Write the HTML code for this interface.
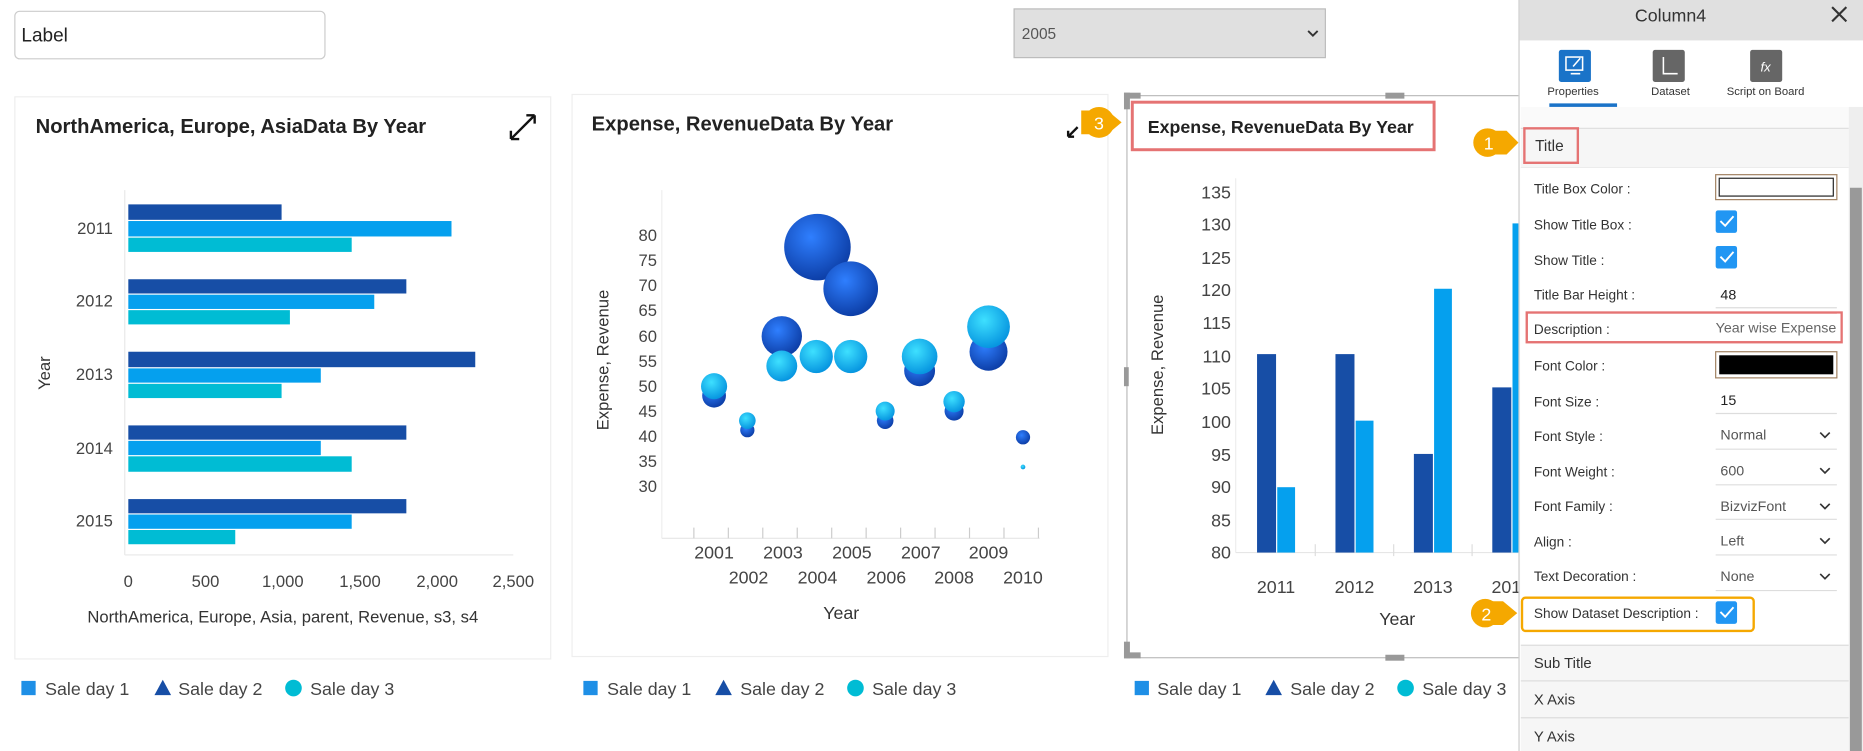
<!DOCTYPE html>
<html><head><meta charset="utf-8"><style>
html,body{margin:0;padding:0;background:#fff;width:1863px;height:751px;overflow:hidden}
svg{display:block}
text{font-family:"Liberation Sans",sans-serif}
</style></head><body>
<svg width="1863" height="751" viewBox="0 0 1568 632" preserveAspectRatio="none" xmlns="http://www.w3.org/2000/svg">
<defs>
<radialGradient id="gd" cx="40%" cy="35%" r="65%"><stop offset="0" stop-color="#2f7fff"/><stop offset="1" stop-color="#0d3fa8"/></radialGradient>
<radialGradient id="gc" cx="40%" cy="35%" r="65%"><stop offset="0" stop-color="#3ee0ff"/><stop offset="1" stop-color="#0796e0"/></radialGradient>
</defs>
<rect width="1568" height="632" fill="#fff"/>
<rect x="12.5" y="9.5" width="261" height="40" rx="4" fill="#fff" stroke="#ccc"/>
<text x="18" y="35" font-size="16" fill="#222">Label</text>
<rect x="853.5" y="7.5" width="262" height="41" fill="#e0e0e0" stroke="#bbb"/>
<text x="860" y="33" font-size="13" fill="#555">2005</text>
<path d="M1101 26l4 4 4-4" stroke="#333" stroke-width="1.6" fill="none"/>

<rect x="12.5" y="81.5" width="451" height="473" fill="#fff" stroke="#eee"/>
<text x="30" y="112" font-size="17" font-weight="bold" fill="#222">NorthAmerica, Europe, AsiaData By Year</text>
<path d="M430 117l20-20M430 117v-7M430 117h7M450 97v7M450 97h-7" stroke="#111" stroke-width="2" fill="none"/>
<line x1="105" y1="160" x2="105" y2="467" stroke="#e8e8e8"/>
<line x1="105" y1="467" x2="432" y2="467" stroke="#e8e8e8"/>
<g fill="#174ea6">
<rect x="108" y="172" width="129" height="13"/><rect x="108" y="235" width="234" height="12"/><rect x="108" y="296" width="292" height="13"/><rect x="108" y="358" width="234" height="12"/><rect x="108" y="420" width="234" height="12"/></g>
<g fill="#05a0ee">
<rect x="108" y="186" width="272" height="13"/><rect x="108" y="248" width="207" height="12"/><rect x="108" y="310" width="162" height="12"/><rect x="108" y="371" width="162" height="12"/><rect x="108" y="433" width="188" height="12"/></g>
<g fill="#00bcd4">
<rect x="108" y="200" width="188" height="12"/><rect x="108" y="261" width="136" height="12"/><rect x="108" y="323" width="129" height="12"/><rect x="108" y="384" width="188" height="13"/><rect x="108" y="446" width="90" height="12"/></g>
<g font-size="14" fill="#444" text-anchor="end">
<text x="95" y="197">2011</text><text x="95" y="258">2012</text><text x="95" y="320">2013</text><text x="95" y="382">2014</text><text x="95" y="443">2015</text></g>
<text transform="translate(42,314) rotate(-90)" font-size="14" fill="#333" text-anchor="middle">Year</text>
<g font-size="14" fill="#444" text-anchor="middle">
<text x="108" y="494">0</text><text x="173" y="494">500</text><text x="238" y="494">1,000</text><text x="303" y="494">1,500</text><text x="368" y="494">2,000</text><text x="432" y="494">2,500</text></g>
<text x="238" y="524" font-size="14" fill="#333" text-anchor="middle">NorthAmerica, Europe, Asia, parent, Revenue, s3, s4</text>

<g font-size="15" fill="#444">
<rect x="18" y="573" width="12" height="12" fill="#1e8fe6"/><text x="38" y="585">Sale day 1</text>
<path d="M130 585l7-13 7 13z" fill="#174ea6"/><text x="150" y="585">Sale day 2</text>
<circle cx="247" cy="579" r="7" fill="#00bcd4"/><text x="261" y="585">Sale day 3</text>
<rect x="491" y="573" width="12" height="12" fill="#1e8fe6"/><text x="511" y="585">Sale day 1</text>
<path d="M602 585l7-13 7 13z" fill="#174ea6"/><text x="623" y="585">Sale day 2</text>
<circle cx="720" cy="579" r="7" fill="#00bcd4"/><text x="734" y="585">Sale day 3</text>
<rect x="955" y="573" width="12" height="12" fill="#1e8fe6"/><text x="974" y="585">Sale day 1</text>
<path d="M1065 585l7-13 7 13z" fill="#174ea6"/><text x="1086" y="585">Sale day 2</text>
<circle cx="1183" cy="579" r="7" fill="#00bcd4"/><text x="1197" y="585">Sale day 3</text>
</g>

<rect x="481.5" y="79.5" width="451" height="473" fill="#fff" stroke="#eee"/>
<text x="498" y="110" font-size="17" font-weight="bold" fill="#222">Expense, RevenueData By Year</text>
<path d="M899 115l8-8M899 115v-5M899 115h5" stroke="#111" stroke-width="2" fill="none"/>
<line x1="557" y1="160" x2="557" y2="453" stroke="#eee"/>
<line x1="557" y1="453" x2="875" y2="453" stroke="#e6e6e6"/>
<g stroke="#ccc"><line x1="584" y1="444" x2="584" y2="453"/><line x1="613" y1="444" x2="613" y2="453"/><line x1="642" y1="444" x2="642" y2="453"/><line x1="671" y1="444" x2="671" y2="453"/><line x1="700" y1="444" x2="700" y2="453"/><line x1="729" y1="444" x2="729" y2="453"/><line x1="758" y1="444" x2="758" y2="453"/><line x1="787" y1="444" x2="787" y2="453"/><line x1="816" y1="444" x2="816" y2="453"/><line x1="845" y1="444" x2="845" y2="453"/><line x1="874" y1="444" x2="874" y2="453"/></g>
<g font-size="14" fill="#444" text-anchor="end">
<text x="553" y="203">80</text><text x="553" y="224">75</text><text x="553" y="245">70</text><text x="553" y="266">65</text><text x="553" y="288">60</text><text x="553" y="309">55</text><text x="553" y="330">50</text><text x="553" y="351">45</text><text x="553" y="372">40</text><text x="553" y="393">35</text><text x="553" y="414">30</text></g>
<text transform="translate(512,303) rotate(-90)" font-size="14" fill="#333" text-anchor="middle">Expense, Revenue</text>
<g font-size="15" fill="#444" text-anchor="middle">
<text x="601" y="470">2001</text><text x="659" y="470">2003</text><text x="717" y="470">2005</text><text x="775" y="470">2007</text><text x="832" y="470">2009</text>
<text x="630" y="491">2002</text><text x="688" y="491">2004</text><text x="746" y="491">2006</text><text x="803" y="491">2008</text><text x="861" y="491">2010</text></g>
<text x="708" y="521" font-size="15" fill="#333" text-anchor="middle">Year</text>
<g fill="url(#gd)">
<circle cx="601" cy="333" r="10"/><circle cx="629" cy="362" r="6"/><circle cx="658" cy="283" r="17"/><circle cx="688" cy="208" r="28"/><circle cx="716" cy="243" r="23"/><circle cx="745" cy="354" r="7"/><circle cx="774" cy="312" r="13"/><circle cx="803" cy="346" r="8"/><circle cx="832" cy="296" r="16"/><circle cx="861" cy="368" r="6"/></g>
<g fill="url(#gc)">
<circle cx="601" cy="325" r="11"/><circle cx="629" cy="354" r="7"/><circle cx="658" cy="308" r="13"/><circle cx="687" cy="300" r="14"/><circle cx="716" cy="300" r="14"/><circle cx="745" cy="346" r="8"/><circle cx="774" cy="300" r="15"/><circle cx="803" cy="338" r="9"/><circle cx="832" cy="275" r="18"/><circle cx="861" cy="393" r="2"/></g>

<rect x="948.5" y="80.5" width="340" height="473" fill="#fff" stroke="#bbb"/>
<g fill="#999"><rect x="946" y="78" width="14" height="5"/><rect x="946" y="78" width="5" height="14"/><rect x="1166" y="78" width="16" height="5"/><rect x="946" y="309" width="4" height="16"/><rect x="946" y="549" width="14" height="5"/><rect x="946" y="540" width="5" height="14"/><rect x="1166" y="551" width="16" height="5"/></g>
<rect x="953" y="86" width="254" height="40" fill="#fff" stroke="#e57373" stroke-width="2.5"/>
<text x="966" y="112" font-size="15" font-weight="bold" fill="#222">Expense, RevenueData By Year</text>
<path d="M910 93h22l12 10-12 10h-22z" fill="#f5a800"/><circle cx="925" cy="103" r="13" fill="#f5a800"/>
<text x="925" y="109" font-size="15" fill="#fff" text-anchor="middle">3</text>
<line x1="1040" y1="150" x2="1040" y2="465" stroke="#eee"/>
<line x1="1040" y1="465" x2="1280" y2="465" stroke="#e6e6e6"/>
<g stroke="#ddd"><line x1="1107" y1="458" x2="1107" y2="468"/><line x1="1173" y1="458" x2="1173" y2="468"/><line x1="1239" y1="458" x2="1239" y2="468"/></g>
<g font-size="15" fill="#444" text-anchor="end">
<text x="1036" y="167">135</text><text x="1036" y="194">130</text><text x="1036" y="222">125</text><text x="1036" y="249">120</text><text x="1036" y="277">115</text><text x="1036" y="305">110</text><text x="1036" y="332">105</text><text x="1036" y="360">100</text><text x="1036" y="388">95</text><text x="1036" y="415">90</text><text x="1036" y="443">85</text><text x="1036" y="470">80</text></g>
<text transform="translate(979,307) rotate(-90)" font-size="14" fill="#333" text-anchor="middle">Expense, Revenue</text>
<g fill="#174ea6"><rect x="1058" y="298" width="16" height="167"/><rect x="1124" y="298" width="16" height="167"/><rect x="1190" y="382" width="16" height="83"/><rect x="1256" y="326" width="16" height="139"/></g>
<g fill="#05a0ee"><rect x="1075" y="410" width="15" height="55"/><rect x="1141" y="354" width="15" height="111"/><rect x="1207" y="243" width="15" height="222"/><rect x="1273" y="188" width="10" height="277"/></g>
<g font-size="15" fill="#444" text-anchor="middle"><text x="1074" y="499">2011</text><text x="1140" y="499">2012</text><text x="1206" y="499">2013</text><text x="1272" y="499">2014</text></g>
<text x="1176" y="526" font-size="15" fill="#333" text-anchor="middle">Year</text>

<rect x="1278" y="0" width="290" height="632" fill="#fff"/>
<line x1="1278.5" y1="0" x2="1278.5" y2="632" stroke="#ccc"/>
<rect x="1279" y="0" width="289" height="34" fill="#e0e0e0"/>
<text x="1406" y="18" font-size="15" fill="#333" text-anchor="middle">Column4</text>
<path d="M1542 6l12 12M1554 6l-12 12" stroke="#333" stroke-width="1.8"/>
<rect x="1312" y="42" width="27" height="27" rx="2" fill="#1a73c8"/>
<rect x="1318" y="48" width="14" height="11" fill="none" stroke="#fff" stroke-width="1.3"/><path d="M1322 62h8M1324 56l6-7" stroke="#fff" stroke-width="1.3"/>
<rect x="1391" y="42" width="27" height="27" rx="2" fill="#666"/>
<path d="M1400 48v14h12" stroke="#fff" stroke-width="1.3" fill="none"/>
<rect x="1473" y="42" width="27" height="27" rx="2" fill="#666"/>
<text x="1486" y="60" font-size="11" font-style="italic" fill="#fff" text-anchor="middle" font-family="Liberation Serif">fx</text>
<g font-size="9.5" fill="#333" text-anchor="middle"><text x="1324" y="80">Properties</text><text x="1406" y="80">Dataset</text><text x="1486" y="80">Script on Board</text></g>
<rect x="1304" y="87" width="57" height="3" fill="#1a73c8"/>
<rect x="1280" y="90" width="276" height="543" fill="#fafafa"/>
<rect x="1280" y="108" width="276" height="54" fill="#f6f6f6"/>
<line x1="1280" y1="108" x2="1556" y2="108" stroke="#ddd"/><line x1="1280" y1="141" x2="1556" y2="141" stroke="#ddd"/>
<rect x="1280" y="141" width="276" height="402" fill="#fff"/>
<rect x="1283" y="108" width="45" height="29" fill="none" stroke="#e57373" stroke-width="2"/>
<text x="1292" y="127" font-size="13" fill="#333">Title</text>
<path d="M1248 110h20l10 10-10 10h-20z" fill="#f5a800"/><circle cx="1252" cy="120" r="12" fill="#f5a800"/>
<text x="1253" y="126" font-size="15" fill="#fff" text-anchor="middle">1</text>
<g font-size="11.5" fill="#333">
<text x="1291" y="163">Title Box Color :</text><text x="1291" y="193">Show Title Box :</text><text x="1291" y="223">Show Title :</text><text x="1291" y="252">Title Bar Height :</text><text x="1291" y="281">Description :</text><text x="1291" y="312">Font Color :</text><text x="1291" y="342">Font Size :</text><text x="1291" y="371">Font Style :</text><text x="1291" y="401">Font Weight :</text><text x="1291" y="430">Font Family :</text><text x="1291" y="460">Align :</text><text x="1291" y="489">Text Decoration :</text><text x="1291" y="520">Show Dataset Description :</text></g>
<rect x="1444" y="147" width="102" height="21" fill="#fff" stroke="#a08060"/><rect x="1447" y="150" width="96" height="15" fill="#fff" stroke="#222"/>
<rect x="1444" y="177" width="18" height="19" rx="2" fill="#2196f3"/><path d="M1448 186l4 4 7-8" stroke="#fff" stroke-width="1.6" fill="none"/>
<rect x="1444" y="207" width="18" height="19" rx="2" fill="#2196f3"/><path d="M1448 216l4 4 7-8" stroke="#fff" stroke-width="1.6" fill="none"/>
<text x="1448" y="252" font-size="12" fill="#222">48</text><line x1="1444" y1="259" x2="1546" y2="259" stroke="#ddd"/>
<rect x="1285" y="263" width="265" height="25" fill="none" stroke="#e57373" stroke-width="2"/>
<text x="1444" y="280" font-size="12" fill="#666">Year wise Expense</text><rect x="1546" y="264" width="3" height="23" fill="#fff"/>
<rect x="1444" y="296" width="102" height="22" fill="#fff" stroke="#a08060"/><rect x="1447" y="299" width="96" height="16" fill="#000"/>
<text x="1448" y="341" font-size="12" fill="#222">15</text>
<g font-size="12" fill="#555"><text x="1448" y="370">Normal</text><text x="1448" y="400">600</text><text x="1448" y="430">BizvizFont</text><text x="1448" y="459">Left</text><text x="1448" y="489">None</text></g>
<g stroke="#ddd"><line x1="1444" y1="348" x2="1546" y2="348"/><line x1="1444" y1="378" x2="1546" y2="378"/><line x1="1444" y1="408" x2="1546" y2="408"/><line x1="1444" y1="437" x2="1546" y2="437"/><line x1="1444" y1="467" x2="1546" y2="467"/><line x1="1444" y1="497" x2="1546" y2="497"/></g>
<g stroke="#333" stroke-width="1.4" fill="none"><path d="M1532 364l4 4 4-4"/><path d="M1532 394l4 4 4-4"/><path d="M1532 424l4 4 4-4"/><path d="M1532 453l4 4 4-4"/><path d="M1532 483l4 4 4-4"/></g>
<rect x="1281" y="503" width="195" height="28" rx="3" fill="none" stroke="#f5a800" stroke-width="2"/>
<rect x="1444" y="506" width="18" height="19" rx="2" fill="#2196f3"/><path d="M1448 515l4 4 7-8" stroke="#fff" stroke-width="1.6" fill="none"/>
<path d="M1245 506h20l12 10-12 10h-20z" fill="#f5a800"/><circle cx="1250" cy="516" r="12" fill="#f5a800"/>
<text x="1251" y="522" font-size="15" fill="#fff" text-anchor="middle">2</text>
<rect x="1280" y="543" width="276" height="89" fill="#f6f6f6"/>
<g stroke="#ddd"><line x1="1280" y1="543" x2="1556" y2="543"/><line x1="1280" y1="573" x2="1556" y2="573"/><line x1="1280" y1="604" x2="1556" y2="604"/></g>
<g font-size="12.5" fill="#333"><text x="1291" y="562">Sub Title</text><text x="1291" y="593">X Axis</text><text x="1291" y="624">Y Axis</text></g>
<rect x="1556" y="90" width="12" height="542" fill="#eee"/>
<rect x="1557" y="158" width="10" height="474" fill="#999"/>
</svg>
</body></html>
